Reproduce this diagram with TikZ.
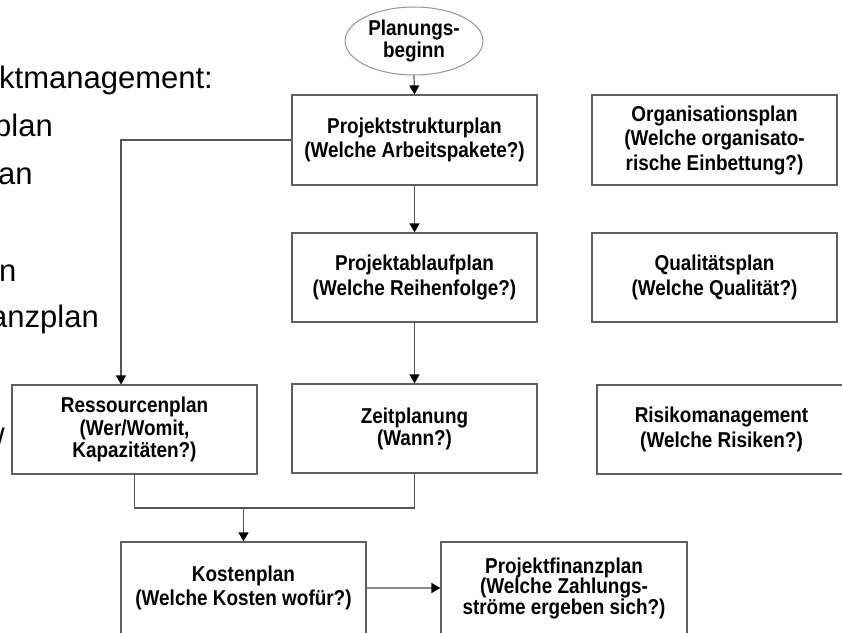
\documentclass[tikz,border=0pt]{standalone}
\usepackage{fontspec}
\setmainfont{Liberation Sans}
\newfontfamily\boxfont{Liberation Sans}[FakeStretch=0.88]
\usetikzlibrary{arrows.meta,shapes.geometric}
\definecolor{boxgray}{RGB}{95,95,95}
\definecolor{linegray}{RGB}{85,85,85}
\definecolor{lightline}{RGB}{140,140,140}
\definecolor{ellgray}{RGB}{150,150,150}
\begin{document}
\begin{tikzpicture}[x=1pt,y=-1pt,
  box/.style={draw=boxgray, line width=1.2pt, rectangle, align=center, inner sep=2pt,
    font=\boxfont\fontsize{21.5}{24.5}\selectfont\bfseries},
  conn/.style={draw=linegray, line width=1.2pt},
  arr/.style={conn, -{Triangle[width=10pt,length=9pt,color=black,fill=black]}},
  lefttext/.style={anchor=base west, inner sep=0pt, font=\fontsize{31}{31}\selectfont}
]
\useasboundingbox (0,0) rectangle (842,632);
\clip (0,0) rectangle (842,632);
\fill[white] (0,0) rectangle (842,632);

% left truncated slide text
\node[lefttext] (t1) at (-1,88) {ktmanagement:};
\node[lefttext] (t2) at (-6,136) {plan};
\node[lefttext] (t3) at (-2,184) {an};
\node[lefttext] (t4) at (-1,281) {n};
\node[lefttext] (t5) at (-10,327) {anzplan};
\node[lefttext] (t6) at (-4,450) {/};

% start ellipse
\node[ellipse, draw=ellgray, line width=1pt, minimum width=138pt, minimum height=68pt,
  inner sep=0pt, align=center, font=\boxfont\fontsize{21.5}{21.5}\selectfont\bfseries] (start) at (414,41)
  {Planungs-\\beginn};

% boxes
\node[box, minimum width=245pt, minimum height=90pt] (psp) at (414.5,140)
  {Projektstrukturplan\\(Welche Arbeitspakete?)};
\node[box, minimum width=245pt, minimum height=89pt] (pap) at (414.5,277.5)
  {Projektablaufplan\\(Welche Reihenfolge?)};
\node[box, minimum width=245pt, minimum height=89pt, font=\boxfont\fontsize{21.5}{22}\selectfont\bfseries] (zeit) at (414.5,428.5)
  {Zeitplanung\\(Wann?)};
\node[box, minimum width=245pt, minimum height=89pt, font=\boxfont\fontsize{21.5}{22.5}\selectfont\bfseries] (res) at (134.5,429.5)
  {Ressourcenplan\\(Wer/Womit,\\Kapazitäten?)};
\node[box, minimum width=245pt, minimum height=92pt] (kost) at (243.5,588)
  {Kostenplan\\(Welche Kosten wofür?)};
\node[box, minimum width=246pt, minimum height=92pt, font=\boxfont\fontsize{21.5}{20.5}\selectfont\bfseries] (fin) at (564,588)
  {Projektfinanzplan\\(Welche Zahlungs-\\ströme ergeben sich?)};
\node[box, minimum width=245pt, minimum height=90pt] (org) at (714.5,140)
  {Organisationsplan\\(Welche organisato-\\rische Einbettung?)};
\node[box, minimum width=245pt, minimum height=89pt] (qual) at (714.5,277.5)
  {Qualitätsplan\\(Welche Qualität?)};
\node[box, minimum width=249pt, minimum height=89pt] (risk) at (721.5,429.5)
  {Risikomanagement\\(Welche Risiken?)};

% connectors
\draw[arr] (start.south) -- (psp.north);
\draw[arr] (psp.south) -- (pap.north);
\draw[arr] (pap.south) -- (zeit.north);
\draw[arr] (psp.west) -| ([xshift=-13.5pt]res.north);
\coordinate (merge) at (243.5,508);
\draw[conn] (res.south) |- (merge) -| (zeit.south);
\draw[arr] (merge) -- (kost.north);
\draw[arr, draw=lightline] (kost.east) -- (fin.west);
\end{tikzpicture}
\end{document}
